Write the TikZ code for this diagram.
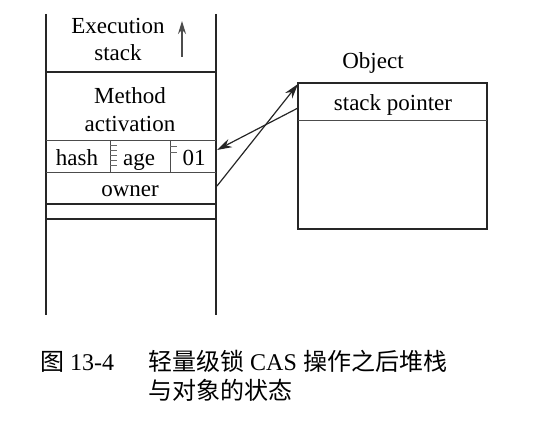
\documentclass[tikz,border=0pt]{standalone}
\usepackage{fontspec}
\setmainfont{Liberation Serif}
\newfontfamily\cjk{Noto Sans CJK SC}
\usetikzlibrary{arrows.meta}
\begin{document}
\begin{tikzpicture}[x=1pt,y=-1pt,
  ink/.style={draw=black!85,line width=1.3pt},
  rule/.style={draw=black!70,line width=0.9pt},
  lbl/.style={inner sep=0pt,text height=15pt,text depth=5pt,font=\fontsize{23}{25}\selectfont},
  ptr/.style={draw=black!85,line width=1.2pt,-{Stealth[length=15pt,width=9pt]}},
  captext/.style={inner sep=0pt,anchor=west,text height=18pt,text depth=4pt,font=\fontsize{24}{26}\selectfont}]
\useasboundingbox (0,0) rectangle (559,427);

% the stack frame
\draw[ink] (46,14) -- (46,315);
\draw[ink] (216,14) -- (216,315);
\draw[ink] (46,72) -- (216,72);
\draw[rule] (46,140) -- (216,140);
\draw[rule] (46,172) -- (216,172);
\draw[ink] (46,204) -- (216,204);
\draw[ink] (46,219) -- (216,219);

% bit-field dividers of the header word
\draw[rule] (110,140) -- (110,172);
\draw[rule] (170,140) -- (170,172);
\foreach \yy in {145,150,155,160,165} \draw[draw=black!60,line width=0.7pt] (110,\yy) -- (117,\yy);
\foreach \yy in {146,152} \draw[draw=black!60,line width=0.9pt] (170,\yy) -- (177,\yy);

\node[lbl] (exec) at (118,29) {Execution};
\node[lbl] (stk) at (118,56) {stack};
\coordinate (growlo) at (182,57);
\coordinate (growhi) at (182,21);
\draw[draw=black!70,line width=1.3pt,-{Stealth[length=13pt,width=8pt]}] (growlo) -- (growhi);
\node[lbl] (meth) at (130,99) {Method};
\node[lbl] (act) at (130,127) {activation};
\node[lbl] (hash) at (77,161) {hash};
\node[lbl] (age) at (139,161) {age};
\node[lbl] (bits) at (194,161) {01};
\node[lbl] (owner) at (130,192) {owner};

% the object
\draw[ink] (298,83) rectangle (487,229);
\draw[rule] (298,120) -- (487,120);
\node[lbl] (obj) at (373,64) {Object};
\node[lbl] (sp) at (393,106) {stack pointer};

\coordinate (objtl) at (298,84);
\coordinate (objsp) at (298,108);
\coordinate (hdr) at (217,150);
\coordinate (own) at (217,186);
\draw[ptr] (objsp) -- (hdr);
\draw[ptr] (own) -- (objtl);

% caption
\node[captext] (fig) at (40,363) {{\cjk 图} 13-4};
\node[captext] (c1) at (148,363) {{\cjk 轻量级锁}\hspace{6pt}CAS\hspace{7pt}{\cjk 操作之后堆栈}};
\node[captext] (c2) at (148,392) {\cjk 与对象的状态};
\end{tikzpicture}
\end{document}
